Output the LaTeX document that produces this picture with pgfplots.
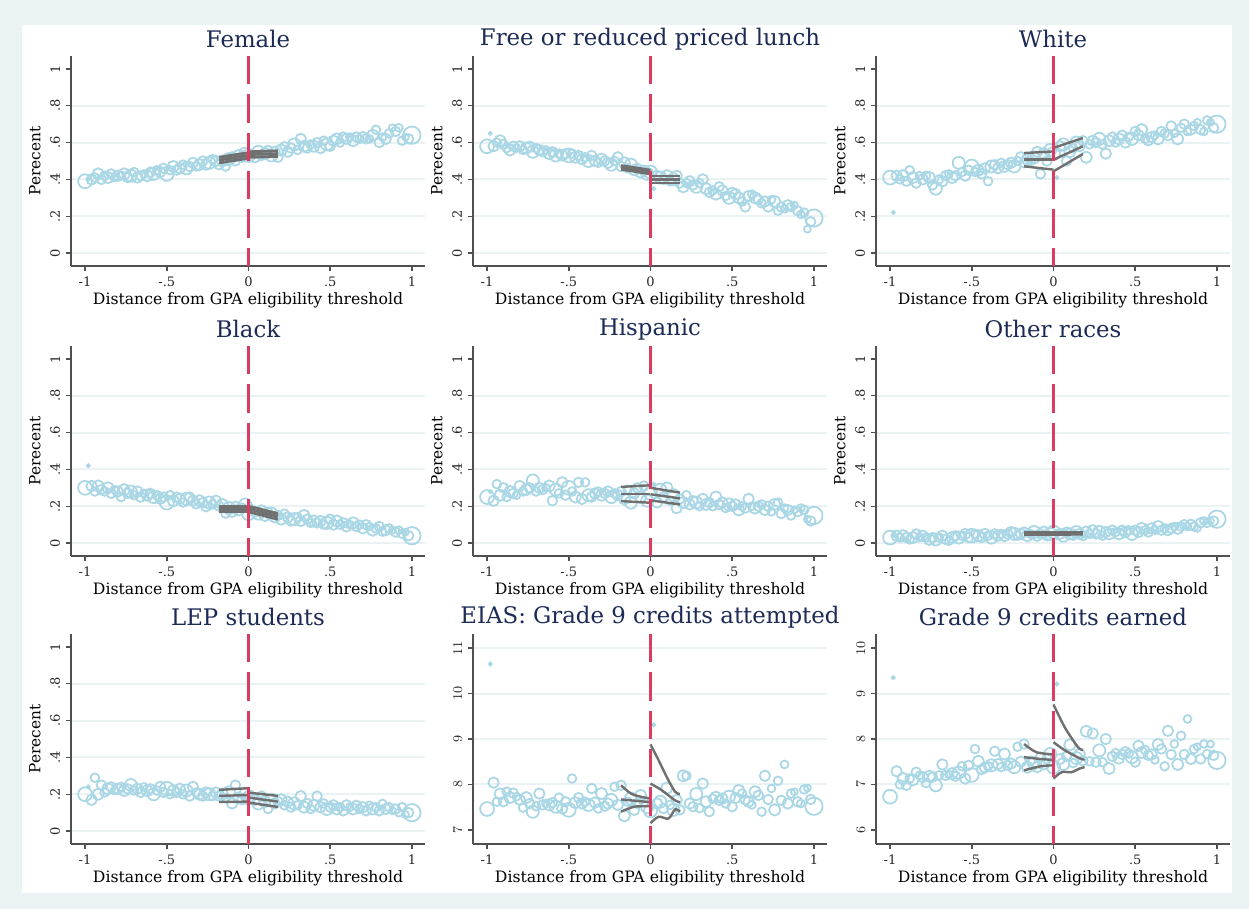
\documentclass[border=0pt]{standalone}
\usepackage{fontspec}
\setmainfont{DejaVu Serif}
\usepackage{pgfplots}
\usepackage{pgfplotstable}
\pgfplotsset{compat=1.18}
\definecolor{bgout}{RGB}{234,242,243}
\definecolor{gridc}{RGB}{234,242,243}
\definecolor{mk}{RGB}{170,215,229}
\definecolor{fitc}{RGB}{112,112,112}
\definecolor{redc}{RGB}{218,60,98}
\definecolor{titc}{RGB}{28,42,86}
\definecolor{axc}{RGB}{80,80,80}

\pgfplotstableread{
x s F L W B H O E A R
-1.00 3.2 .39 .58 .41 .30 .25 .03 .20 7.46 6.73
-0.98 0.7 .40 .65 .22 .42 .28 .04 .24 10.65 9.35
-0.96 2.4 .40 .58 .42 .31 .23 .04 .17 8.04 7.29
-0.94 2.0 .41 .60 .40 .28 .32 .03 .29 7.62 7.00
-0.92 2.6 .43 .61 .42 .31 .26 .04 .20 7.79 7.13
-0.90 2.2 .40 .59 .39 .29 .30 .03 .25 7.62 6.98
-0.88 2.0 .42 .57 .45 .28 .25 .02 .21 7.84 7.13
-0.86 2.6 .41 .56 .41 .30 .28 .03 .23 7.71 7.10
-0.84 2.2 .43 .58 .38 .27 .27 .05 .24 7.81 7.27
-0.82 1.8 .41 .57 .42 .29 .26 .03 .22 7.73 7.20
-0.80 2.4 .42 .58 .40 .28 .31 .04 .23 7.66 7.16
-0.78 2.0 .42 .56 .42 .25 .28 .03 .24 7.49 7.03
-0.76 2.6 .43 .57 .41 .29 .29 .02 .22 7.71 7.18
-0.74 2.2 .41 .58 .37 .27 .30 .03 .23 7.58 7.16
-0.72 2.8 .42 .55 .35 .28 .34 .02 .25 7.40 6.98
-0.70 2.0 .44 .57 .40 .26 .28 .03 .22 7.52 7.20
-0.68 2.4 .41 .56 .39 .28 .30 .04 .23 7.80 7.44
-0.66 2.2 .42 .55 .42 .25 .29 .02 .21 7.55 7.20
-0.64 1.8 .43 .56 .43 .27 .30 .01 .24 7.58 7.22
-0.62 2.6 .42 .54 .41 .26 .31 .03 .22 7.55 7.24
-0.60 2.2 .44 .55 .42 .27 .23 .04 .23 7.60 7.18
-0.58 2.8 .43 .53 .49 .25 .29 .03 .20 7.51 7.26
-0.56 2.0 .45 .54 .44 .26 .27 .04 .22 7.71 7.40
-0.54 2.4 .44 .53 .42 .24 .33 .05 .24 7.47 7.13
-0.52 2.2 .46 .54 .45 .25 .26 .03 .21 7.62 7.42
-0.50 3.2 .43 .53 .47 .22 .30 .04 .23 7.44 7.21
-0.48 2.0 .45 .54 .44 .26 .28 .05 .20 8.13 7.78
-0.46 2.6 .47 .52 .45 .23 .25 .04 .22 7.60 7.51
-0.44 2.2 .45 .53 .43 .25 .33 .03 .21 7.71 7.33
-0.42 2.4 .46 .51 .46 .24 .24 .05 .23 7.58 7.37
-0.40 2.0 .48 .52 .39 .22 .33 .04 .20 7.62 7.40
-0.38 2.8 .46 .50 .47 .24 .26 .03 .22 7.55 7.42
-0.36 2.2 .47 .53 .48 .25 .25 .05 .19 7.91 7.73
-0.34 2.4 .49 .50 .46 .23 .27 .04 .24 7.60 7.45
-0.32 2.0 .47 .49 .49 .21 .28 .05 .21 7.47 7.38
-0.30 2.6 .48 .51 .47 .23 .26 .04 .20 7.80 7.67
-0.28 2.2 .50 .50 .48 .22 .27 .05 .19 7.52 7.42
-0.26 2.4 .48 .49 .49 .20 .28 .06 .21 7.58 7.46
-0.24 2.8 .49 .48 .47 .22 .25 .05 .20 7.66 7.38
-0.22 2.0 .51 .50 .50 .21 .27 .04 .19 7.95 7.83
-0.20 2.4 .50 .52 .52 .23 .26 .05 .21 7.55 7.50
-0.18 2.2 .48 .47 .49 .20 .28 .06 .19 7.98 7.89
-0.16 2.6 .50 .49 .51 .21 .24 .04 .20 7.31 7.38
-0.14 2.0 .47 .46 .50 .16 .29 .05 .18 7.62 7.52
-0.12 2.8 .51 .48 .52 .19 .22 .06 .21 7.69 7.47
-0.10 2.4 .52 .45 .55 .17 .27 .04 .15 7.44 7.38
-0.08 2.2 .50 .46 .43 .20 .30 .05 .25 7.58 7.60
-0.06 2.6 .53 .44 .54 .18 .25 .06 .18 7.76 7.45
-0.04 2.2 .52 .45 .50 .19 .31 .04 .17 7.62 7.56
-0.02 2.8 .54 .43 .56 .21 .23 .05 .20 7.50 7.67
0.00 3.0 .53 .44 .54 .16 .27 .06 .18 7.42 7.38
0.02 0.7 .54 .35 .41 .20 .32 .03 .21 9.31 9.21
0.04 2.4 .52 .42 .58 .17 .22 .05 .17 7.58 7.56
0.06 2.8 .55 .41 .59 .16 .29 .04 .15 7.62 7.45
0.08 2.2 .53 .40 .50 .18 .25 .06 .19 7.47 7.62
0.10 2.6 .54 .42 .55 .15 .30 .05 .16 7.92 7.87
0.12 2.0 .56 .39 .57 .17 .23 .04 .12 7.55 7.47
0.14 2.8 .53 .40 .60 .16 .26 .06 .17 7.44 7.58
0.16 2.4 .55 .42 .58 .14 .19 .05 .15 7.66 7.67
0.18 2.2 .52 .38 .61 .15 .24 .04 .16 7.44 7.52
0.20 2.6 .56 .36 .52 .13 .22 .06 .17 8.19 8.17
0.22 2.0 .58 .38 .59 .16 .26 .05 .14 8.19 7.51
0.24 2.4 .55 .39 .61 .14 .21 .07 .16 7.58 8.12
0.26 2.2 .57 .37 .60 .12 .23 .05 .13 7.51 7.49
0.28 2.8 .59 .36 .62 .13 .22 .06 .15 7.79 7.75
0.30 2.0 .56 .38 .59 .14 .20 .04 .14 7.48 7.49
0.32 2.4 .62 .40 .54 .12 .24 .06 .19 8.02 8.00
0.34 2.6 .58 .35 .61 .15 .21 .05 .13 7.62 7.35
0.36 2.2 .57 .33 .63 .13 .22 .07 .15 7.40 7.62
0.38 2.0 .59 .34 .60 .11 .20 .06 .12 7.69 7.69
0.40 2.6 .58 .32 .62 .12 .25 .05 .14 7.72 7.58
0.42 2.2 .60 .36 .64 .11 .21 .07 .19 7.65 7.66
0.44 2.4 .57 .34 .60 .12 .22 .06 .13 7.69 7.71
0.46 2.0 .61 .31 .63 .10 .19 .07 .15 7.58 7.68
0.48 2.8 .59 .30 .62 .11 .21 .05 .12 7.73 7.60
0.50 2.2 .58 .33 .66 .13 .20 .07 .13 7.51 7.49
0.52 2.4 .61 .32 .64 .10 .21 .06 .14 7.70 7.85
0.54 2.6 .62 .30 .67 .12 .18 .08 .12 7.87 7.70
0.56 2.0 .60 .28 .62 .10 .20 .07 .13 7.80 7.76
0.58 2.2 .63 .25 .61 .11 .19 .06 .11 7.66 7.64
0.60 2.4 .62 .31 .63 .09 .24 .08 .14 7.62 7.66
0.62 1.8 .63 .32 .64 .10 .20 .07 .13 7.55 7.54
0.64 2.6 .61 .30 .62 .11 .19 .09 .12 7.84 7.88
0.66 2.2 .63 .29 .66 .09 .20 .07 .14 7.76 7.78
0.68 2.0 .62 .27 .65 .10 .21 .08 .12 7.40 7.40
0.70 2.4 .63 .28 .64 .08 .18 .07 .13 8.19 8.18
0.72 2.2 .62 .25 .69 .10 .20 .08 .11 7.67 7.66
0.74 1.8 .62 .29 .65 .09 .17 .09 .14 7.91 7.89
0.76 2.6 .64 .28 .62 .07 .21 .08 .12 7.44 7.44
0.78 2.0 .67 .23 .68 .08 .22 .09 .13 8.08 8.07
0.80 2.2 .60 .25 .70 .09 .16 .10 .11 7.65 7.66
0.82 1.8 .63 .24 .66 .06 .19 .09 .15 8.44 8.44
0.84 2.4 .62 .26 .67 .07 .18 .10 .12 7.58 7.56
0.86 2.0 .65 .25 .69 .08 .15 .09 .13 7.80 7.78
0.88 1.6 .68 .26 .71 .07 .18 .08 .11 7.84 7.83
0.90 2.2 .66 .23 .67 .06 .17 .11 .12 7.62 7.56
0.92 1.8 .68 .21 .66 .07 .19 .12 .10 7.58 7.89
0.94 2.0 .61 .22 .72 .05 .18 .11 .13 7.89 7.67
0.96 1.6 .63 .13 .71 .06 .13 .12 .09 7.92 7.89
0.98 2.2 .62 .17 .68 .04 .12 .12 .10 7.67 7.64
1.00 4.0 .64 .19 .70 .04 .15 .13 .10 7.52 7.53
}\data

\pgfplotsset{
  panel/.style={
    scale only axis, width=212.4pt, height=126pt,
    xmin=-1.086, xmax=1.08,
    clip marker paths=true,
    axis x line*=bottom, axis y line*=left,
    axis line style={axc, line width=0.9pt, -},
    major tick style={axc, line width=0.9pt},
    tick align=outside, major tick length=3pt,
    xtick={-1,-0.5,0,0.5,1}, xticklabels={-1,-.5,0,.5,1},
    tick label style={font=\fontsize{7.8}{8}\selectfont, text=black!85},
    yticklabel style={rotate=90, anchor=south},
    xlabel={Distance from GPA eligibility threshold},
    xlabel style={at={(axis description cs:0.5,-0.165)}, anchor=center, font=\fontsize{9.4}{10}\selectfont},
    every axis title/.style={at={(axis description cs:0.5,1.081)}, anchor=center, inner sep=0pt, font=\fontsize{13.7}{15}\selectfont, text=titc},
    ylabel style={at={(axis description cs:-0.1017,0.5)}, anchor=center, font=\fontsize{9.2}{10}\selectfont},
    ymajorgrids, grid style={gridc, line width=1.2pt},
    extra y tick style={grid=none},
  },
  pct/.style={ymin=-0.07, ymax=1.07, ytick={0,0.2,0.4,0.6,0.8}, yticklabels={0,.2,.4,.6,.8},
    extra y ticks={1}, extra y tick labels={1}, ylabel={Perecent}},
  sc/.style={scatter, only marks, mark=o, line width=1.05pt, mark options={line width=1.05pt},
    scatter/use mapped color={draw=mk},
    visualization depends on={1.3*\thisrow{s} \as \ms},
    scatter/@pre marker code/.append style={/tikz/mark size=\ms}},
  fitl/.style={draw=fitc, line width=1.45pt, no marks},
  fitb/.style={draw=fitc, line width=1.7pt, no marks},
  rl/.style={draw=redc, line width=1.5pt, dash pattern=on 17pt off 6pt, no marks},
}

\begin{document}
\begin{tikzpicture}
\fill[bgout] (0,0) rectangle (749.4pt,545.4pt);
\fill[white] (13.2pt,9.6pt) rectangle (739.2pt,530.4pt);

% Row 1
\begin{axis}[panel, pct, at={(42.6pt,385.8pt)}, anchor=south west, title={Female}]
\addplot[sc] table[x=x,y=F]{\data};
\addplot[fitb] coordinates {(-0.18,0.49)(0,0.515)};
\addplot[fitb] coordinates {(-0.18,0.505)(0,0.53)};
\addplot[fitb] coordinates {(-0.18,0.52)(0,0.545)};
\addplot[fitb] coordinates {(0,0.52)(0.18,0.525)};
\addplot[fitb] coordinates {(0,0.535)(0.18,0.54)};
\addplot[fitb] coordinates {(0,0.55)(0.18,0.555)};
\addplot[rl] coordinates {(0,1.07)(0,-0.07)};
\end{axis}

\begin{axis}[panel, pct, at={(283.8pt,385.8pt)}, anchor=south west, title={Free or reduced priced lunch}]
\addplot[sc] table[x=x,y=L]{\data};
\addplot[fitb] coordinates {(-0.18,0.455)(0,0.43)};
\addplot[fitb] coordinates {(-0.18,0.465)(0,0.44)};
\addplot[fitb] coordinates {(-0.18,0.475)(0,0.45)};
\addplot[fitl] coordinates {(0,0.38)(0.18,0.38)};
\addplot[fitl] coordinates {(0,0.399)(0.18,0.399)};
\addplot[fitl] coordinates {(0,0.417)(0.18,0.417)};
\addplot[rl] coordinates {(0,1.07)(0,-0.07)};
\end{axis}

\begin{axis}[panel, pct, at={(525.6pt,385.8pt)}, anchor=south west, title={White}]
\addplot[sc] table[x=x,y=W]{\data};
\addplot[fitl] coordinates {(-0.18,0.543)(0,0.552)};
\addplot[fitl] coordinates {(-0.18,0.507)(0,0.507)};
\addplot[fitl] coordinates {(-0.18,0.471)(0,0.453)};
\addplot[fitl] coordinates {(0,0.571)(0.18,0.625)};
\addplot[fitl] coordinates {(0,0.507)(0.18,0.58)};
\addplot[fitl] coordinates {(0,0.444)(0.18,0.538)};
\addplot[rl] coordinates {(0,1.07)(0,-0.07)};
\end{axis}

% Row 2
\begin{axis}[panel, pct, at={(42.6pt,211.8pt)}, anchor=south west, title={Black}]
\addplot[sc] table[x=x,y=B]{\data};
\addplot[fitb] coordinates {(-0.18,0.17)(0,0.17)};
\addplot[fitb] coordinates {(-0.18,0.185)(0,0.185)};
\addplot[fitb] coordinates {(-0.18,0.20)(0,0.20)};
\addplot[fitb] coordinates {(0,0.17)(0.18,0.13)};
\addplot[fitb] coordinates {(0,0.185)(0.18,0.145)};
\addplot[fitb] coordinates {(0,0.20)(0.18,0.16)};
\addplot[rl] coordinates {(0,1.07)(0,-0.07)};
\end{axis}

\begin{axis}[panel, pct, at={(283.8pt,211.8pt)}, anchor=south west, title={Hispanic}]
\addplot[sc] table[x=x,y=H]{\data};
\addplot[fitl] coordinates {(-0.18,0.305)(0,0.314)};
\addplot[fitl] coordinates {(-0.18,0.268)(0,0.268)};
\addplot[fitl] coordinates {(-0.18,0.228)(0,0.219)};
\addplot[fitl] coordinates {(0,0.30)(0.18,0.274)};
\addplot[fitl] coordinates {(0,0.265)(0.18,0.243)};
\addplot[fitl] coordinates {(0,0.232)(0.18,0.21)};
\addplot[rl] coordinates {(0,1.07)(0,-0.07)};
\end{axis}

\begin{axis}[panel, pct, at={(525.6pt,211.8pt)}, anchor=south west, title={Other races}]
\addplot[sc] table[x=x,y=O]{\data};
\addplot[fitb] coordinates {(-0.18,0.047)(0,0.047)};
\addplot[fitb] coordinates {(-0.18,0.053)(0,0.053)};
\addplot[fitb] coordinates {(-0.18,0.059)(0,0.059)};
\addplot[fitb] coordinates {(0,0.047)(0.18,0.048)};
\addplot[fitb] coordinates {(0,0.053)(0.18,0.054)};
\addplot[fitb] coordinates {(0,0.059)(0.18,0.059)};
\addplot[rl] coordinates {(0,1.07)(0,-0.07)};
\end{axis}

% Row 3
\begin{axis}[panel, pct, at={(42.6pt,39pt)}, anchor=south west, title={LEP students}]
\addplot[sc] table[x=x,y=E]{\data};
\addplot[fitl] coordinates {(-0.18,0.224)(0,0.233)};
\addplot[fitl] coordinates {(-0.18,0.191)(0,0.196)};
\addplot[fitl] coordinates {(-0.18,0.158)(0,0.16)};
\addplot[fitl] coordinates {(0,0.209)(0.18,0.191)};
\addplot[fitl] coordinates {(0,0.182)(0.18,0.16)};
\addplot[fitl] coordinates {(0,0.155)(0.18,0.131)};
\addplot[rl] coordinates {(0,1.07)(0,-0.07)};
\end{axis}

\begin{axis}[panel, at={(283.8pt,39pt)}, anchor=south west, title={EIAS: Grade 9 credits attempted},
  ymin=6.69, ymax=11.31, ytick={8,9,10,11}, extra y ticks={7}]
\addplot[sc] table[x=x,y=A]{\data};
\addplot[fitl, smooth] coordinates {(-0.18,7.98)(-0.12,7.80)(-0.06,7.73)(0,7.69)};
\addplot[fitl, smooth] coordinates {(-0.18,7.67)(-0.09,7.64)(0,7.61)};
\addplot[fitl, smooth] coordinates {(-0.18,7.40)(-0.10,7.51)(0,7.52)};
\addplot[fitl, smooth] coordinates {(0,8.88)(0.05,8.53)(0.10,8.16)(0.15,7.84)(0.18,7.79)};
\addplot[fitl, smooth] coordinates {(0,8.02)(0.07,7.87)(0.15,7.65)(0.18,7.61)};
\addplot[fitl, smooth] coordinates {(0,7.15)(0.05,7.29)(0.11,7.25)(0.15,7.45)(0.18,7.40)};
\addplot[rl] coordinates {(0,11.31)(0,6.69)};
\end{axis}

\begin{axis}[panel, at={(525.6pt,39pt)}, anchor=south west, title={Grade 9 credits earned},
  ymin=5.69, ymax=10.31, ytick={7,8,9}, extra y ticks={6,10}]
\addplot[sc] table[x=x,y=R]{\data};
\addplot[fitl, smooth] coordinates {(-0.18,7.89)(-0.105,7.71)(0,7.66)};
\addplot[fitl, smooth] coordinates {(-0.18,7.60)(-0.08,7.56)(0,7.54)};
\addplot[fitl, smooth] coordinates {(-0.18,7.31)(-0.08,7.40)(0,7.42)};
\addplot[fitl, smooth] coordinates {(0,8.76)(0.07,8.25)(0.15,7.82)(0.18,7.76)};
\addplot[fitl, smooth] coordinates {(0,7.93)(0.07,7.75)(0.17,7.56)(0.19,7.56)};
\addplot[fitl, smooth] coordinates {(0,7.13)(0.05,7.27)(0.11,7.27)(0.16,7.35)(0.19,7.38)};
\addplot[rl] coordinates {(0,10.31)(0,5.69)};
\end{axis}
\end{tikzpicture}
\end{document}
